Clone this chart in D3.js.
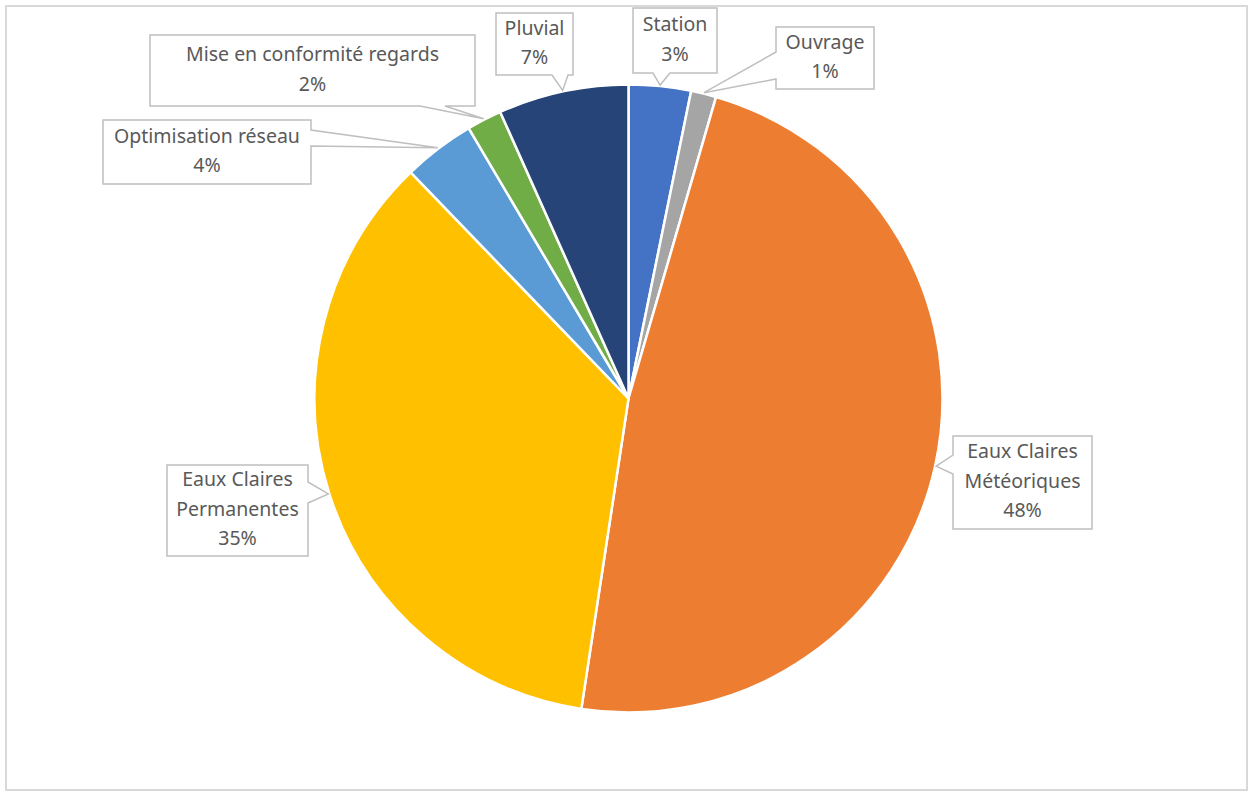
<!DOCTYPE html>
<html>
<head>
<meta charset="utf-8">
<script src="https://cdn.jsdelivr.net/npm/d3@7"></script>
<style>
	body { margin: 0; background: #fff; }
	svg text { font-family: "Noto Sans", "Open Sans", sans-serif; }
</style>
</head>
<body>
<div id="graph"></div>
<script>
// slices, clockwise from 12 o'clock
var names = [ "Station", "Ouvrage", "Eaux Claires Météoriques",
	"Eaux Claires Permanentes", "Optimisation réseau",
	"Mise en conformité regards", "Pluvial" ];
var values = [ 3.2, 1.3, 47.9, 35.4, 3.7, 1.8, 6.7 ];
var labelLines = [
	[ "Station" ],
	[ "Ouvrage" ],
	[ "Eaux Claires", "Météoriques" ],
	[ "Eaux Claires", "Permanentes" ],
	[ "Optimisation réseau" ],
	[ "Mise en conformité regards" ],
	[ "Pluvial" ]
];
var colors = [ "#4472c4", "#a5a5a5", "#ed7d31", "#ffc000", "#5b9bd5",
	"#70ad47", "#264478" ];

var width = 1250, height = 792;
var cx = 628.5, cy = 398.5, radius = 314;

// callout boxes: x, y, w, h, side the wedge leaves from, wedge base range
var callouts = [
	{ x: 633, y: 8, w: 84, h: 65, side: "bottom", b0: 653, b1: 670 },
	{ x: 776, y: 27, w: 98, h: 62, side: "left", b0: 52, b1: 79 },
	{ x: 953, y: 436, w: 139, h: 93, side: "left", b0: 455, b1: 474 },
	{ x: 167, y: 465, w: 141, h: 91, side: "right", b0: 482, b1: 503 },
	{ x: 103, y: 120, w: 208, h: 64, side: "right", b0: 130, b1: 146 },
	{ x: 150, y: 35, w: 325, h: 71, side: "bottom", b0: 420, b1: 445 },
	{ x: 496, y: 13, w: 77, h: 62, side: "bottom", b0: 552, b1: 568 }
];

var svg = d3.select("#graph").append("svg")
	.attr("width", width)
	.attr("height", height);

svg.append("rect")
	.attr("x", 6).attr("y", 6)
	.attr("width", width - 9).attr("height", height - 8)
	.attr("fill", "#fff")
	.attr("stroke", "#d9d9d9")
	.attr("stroke-width", 2);

var pie = d3.pie().sort(null).value(function (d) { return d; });
var arcs = pie(values);

var arc = d3.arc().innerRadius(0).outerRadius(radius);

var g = svg.append("g")
	.attr("transform", "translate(" + cx + ", " + cy + ")");

g.selectAll("path")
	.data(arcs)
	.enter().append("path")
	.attr("d", arc)
	.attr("fill", function (d, i) { return colors[i]; })
	.attr("stroke", "#fff")
	.attr("stroke-width", 2.5)
	.attr("stroke-linejoin", "round");

var total = d3.sum(values);

function calloutPath(c, tip) {
	var x0 = c.x, y0 = c.y, x1 = c.x + c.w, y1 = c.y + c.h;
	var p = [];
	if (c.side == "bottom") {
		p = [[x0, y0], [x1, y0], [x1, y1], [c.b1, y1], tip, [c.b0, y1],
			[x0, y1]];
	} else if (c.side == "left") {
		p = [[x0, y0], [x1, y0], [x1, y1], [x0, y1], [x0, c.b1], tip,
			[x0, c.b0]];
	} else {
		p = [[x0, y0], [x1, y0], [x1, c.b0], tip, [x1, c.b1], [x1, y1],
			[x0, y1]];
	}
	return "M" + p.map(function (q) { return q[0] + "," + q[1]; })
		.join("L") + "Z";
}

var labels = svg.append("g");

arcs.forEach(function (a, i) {
	var c = callouts[i];
	var mid = (a.startAngle + a.endAngle) / 2;
	var tip = [cx + (radius + 1) * Math.sin(mid),
		cy - (radius + 1) * Math.cos(mid)];

	labels.append("path")
		.attr("d", calloutPath(c, tip))
		.attr("fill", "#fff")
		.attr("stroke", "#bfbfbf")
		.attr("stroke-width", 1.5)
		.attr("stroke-linejoin", "miter");

	var lines = labelLines[i].concat([d3.format(".0f")(values[i] / total * 100)
		+ "%"]);
	var lineH = 29.5;
	var top = c.y + c.h / 2 - (lines.length - 1) * lineH / 2 - 1.5;
	var t = labels.append("text")
		.attr("text-anchor", "middle")
		.attr("fill", "#595959")
		.attr("font-size", 19.5);
	lines.forEach(function (s, k) {
		t.append("tspan")
			.attr("x", c.x + c.w / 2)
			.attr("y", top + k * lineH)
			.attr("dy", "0.35em")
			.text(s);
	});
});
</script>
</body>
</html>
